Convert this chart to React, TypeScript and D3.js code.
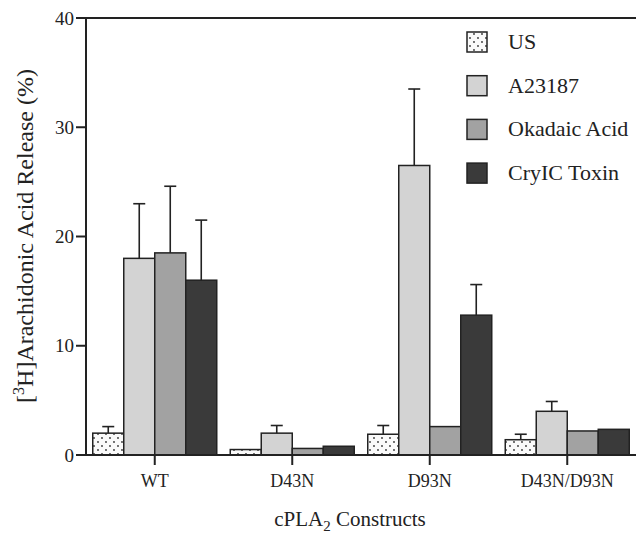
import React from "react";
import * as d3 from "d3";

const categories = ["WT", "D43N", "D93N", "D43N/D93N"];
const seriesNames = ["US", "A23187", "Okadaic Acid", "CryIC Toxin"];
const usValues = [2.0, 0.5, 1.9, 1.4];
const usErrors = [0.6, null, 0.8, 0.5];
const a23187Values = [18.0, 2.0, 26.5, 4.0];
const a23187Errors = [5.0, 0.7, 7.0, 0.9];
const okadaicValues = [18.5, 0.6, 2.6, 2.2];
const okadaicErrors = [6.1, null, null, null];
const cryValues = [16.0, 0.8, 12.8, 2.35];
const cryErrors = [5.5, null, 2.8, null];
const yTicks = [0, 10, 20, 30, 40];

const seriesValues = [usValues, a23187Values, okadaicValues, cryValues];
const seriesErrors = [usErrors, a23187Errors, okadaicErrors, cryErrors];
const fills = ["url(#dots)", "#d3d3d3", "#a2a2a2", "#3a3a3a"];

export default function App() {
  const W = 636, H = 536;
  const left = 86, right = 636, top = 18, bottom = 455;
  const y = d3.scaleLinear().domain([0, 40]).range([bottom, top]);
  const x0 = d3.scaleBand().domain(categories).range([left, right]).padding(0);
  const groupW = 124;
  const x1 = d3.scaleBand().domain(seriesNames).range([0, groupW]).padding(0);
  const font = "Liberation Serif, Times New Roman, DejaVu Serif, serif";
  const stroke = "#222";

  return (
    <svg width={W} height={H} style={{ position: "absolute", left: 0, top: 0, fontFamily: font }}>
      <defs>
        <pattern id="dots" width="8" height="8" patternUnits="userSpaceOnUse">
          <rect width="8" height="8" fill="#fafafa" />
          <circle cx="2" cy="2" r="0.9" fill="#333" />
          <circle cx="6" cy="6" r="0.9" fill="#333" />
        </pattern>
      </defs>
      <rect width={W} height={H} fill="#fff" />

      {/* bars */}
      {categories.map((c, ci) => {
        const gx = (x0(c) as number) + (x0.bandwidth() - groupW) / 2;
        return (
          <g key={c}>
            {seriesNames.map((s, si) => {
              const v = seriesValues[si][ci];
              const e = seriesErrors[si][ci];
              const bx = gx + (x1(s) as number);
              const bw = x1.bandwidth();
              const cx = bx + bw / 2;
              return (
                <g key={s}>
                  <rect x={bx} y={y(v)} width={bw} height={y(0) - y(v)} fill={fills[si]} stroke={stroke} strokeWidth={1.5} />
                  {e != null && (
                    <g stroke={stroke} strokeWidth={1.6}>
                      <line x1={cx} x2={cx} y1={y(v)} y2={y(v + e)} />
                      <line x1={cx - 6} x2={cx + 6} y1={y(v + e)} y2={y(v + e)} />
                    </g>
                  )}
                </g>
              );
            })}
          </g>
        );
      })}

      {/* axes */}
      <line x1={left} x2={left} y1={top} y2={bottom} stroke={stroke} strokeWidth={2} />
      <line x1={left} x2={right} y1={top} y2={top} stroke={stroke} strokeWidth={2} />
      <line x1={left} x2={right} y1={bottom} y2={bottom} stroke={stroke} strokeWidth={2} />
      {yTicks.map((t) => (
        <g key={t}>
          <line x1={left - 10} x2={left} y1={y(t)} y2={y(t)} stroke={stroke} strokeWidth={2} />
          <text x={left - 12} y={y(t)} dy="0.35em" textAnchor="end" fontSize={19} fill="#222" style={{ fontFamily: font }}>{t}</text>
        </g>
      ))}
      {categories.map((c) => {
        const cx = (x0(c) as number) + x0.bandwidth() / 2;
        return (
          <g key={c}>
            <line x1={cx} x2={cx} y1={bottom} y2={bottom + 10} stroke={stroke} strokeWidth={2} />
            <text x={cx} y={487} textAnchor="middle" fontSize={18} fill="#222" style={{ fontFamily: font }}>{c}</text>
          </g>
        );
      })}

      {/* axis titles */}
      <text x={350} y={526} textAnchor="middle" fontSize={21} fill="#222" style={{ fontFamily: font }}>
        cPLA<tspan fontSize={15} dy={5}>2</tspan><tspan dy={-5}> Constructs</tspan>
      </text>
      <text transform="translate(33,236) rotate(-90)" textAnchor="middle" fontSize={24} fill="#222" style={{ fontFamily: font }}>
        [<tspan fontSize={16} dy={-9}>3</tspan><tspan dy={9}>H]Arachidonic Acid Release (%)</tspan>
      </text>

      {/* legend */}
      {seriesNames.map((s, i) => {
        const ly = 32 + i * 43.7;
        return (
          <g key={s}>
            <rect x={467} y={ly} width={20} height={20} fill={fills[i]} stroke={stroke} strokeWidth={1.5} />
            <text x={508} y={ly + 17} fontSize={22} fill="#222" style={{ fontFamily: font }}>{s}</text>
          </g>
        );
      })}
    </svg>
  );
}
